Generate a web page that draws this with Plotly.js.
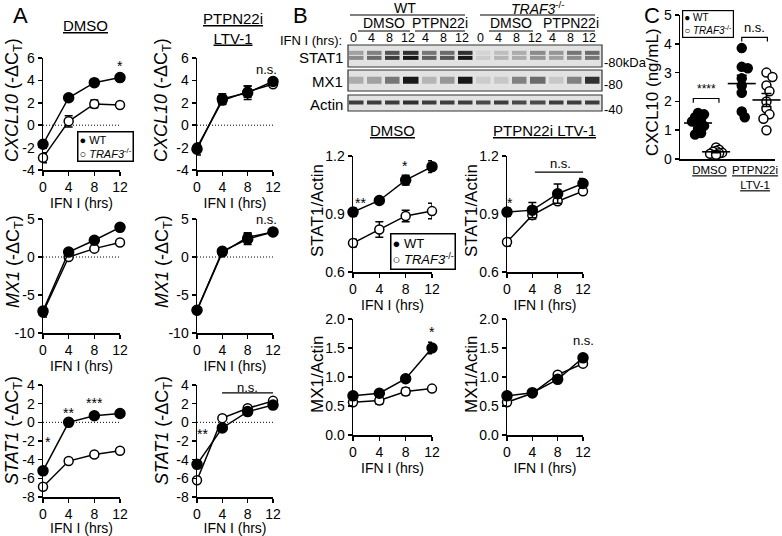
<!DOCTYPE html>
<html><head><meta charset="utf-8">
<script src="https://cdn.plot.ly/plotly-3.0.1.min.js"></script>
<style>html,body{margin:0;padding:0;background:#fff}#chart{width:782px;height:536px}</style>
</head><body><div id="chart"></div>
<script>
// ================= DATA =================
const hours = [0, 4, 8, 12];
const hourLabels = ['0', '4', '8', '12'];

// Panel A: qPCR (-ΔCT), mean and error
const cxcl10DmsoWT = [-1.7, 2.45, 3.8, 4.25];
const cxcl10DmsoWTErr = [0.35, 0.12, 0.25, 0.12];
const cxcl10DmsoKO = [-2.9, 0.35, 1.9, 1.8];
const cxcl10DmsoKOErr = [0.45, 0.5, 0.35, 0.12];
const cxcl10PtpnWT = [-2.15, 2.35, 2.9, 3.9];
const cxcl10PtpnWTErr = [0.5, 0.45, 0.6, 0.15];
const cxcl10PtpnKO = [-2.0, 2.2, 3.0, 3.65];
const cxcl10PtpnKOErr = [0.4, 0.35, 0.5, 0.15];

const mx1DmsoWT = [-7.1, 0.65, 2.2, 3.9];
const mx1DmsoWTErr = [0.5, 0.2, 0.2, 0.2];
const mx1DmsoKO = [-7.3, 0.0, 1.1, 1.9];
const mx1DmsoKOErr = [0.6, 0.3, 0.2, 0.2];
const mx1PtpnWT = [-7.0, 0.75, 2.35, 3.3];
const mx1PtpnWTErr = [0.3, 0.3, 0.7, 0.2];
const mx1PtpnKO = [-7.0, 0.6, 2.6, 3.3];
const mx1PtpnKOErr = [0.3, 0.3, 0.6, 0.2];

const stat1DmsoWT = [-5.2, 0.0, 0.7, 0.95];
const stat1DmsoWTErr = [0.3, 0.2, 0.2, 0.2];
const stat1DmsoKO = [-6.9, -4.15, -3.45, -3.05];
const stat1DmsoKOErr = [0.3, 0.2, 0.2, 0.2];
const stat1PtpnWT = [-4.5, -0.6, 1.15, 1.85];
const stat1PtpnWTErr = [0.3, 0.2, 0.2, 0.2];
const stat1PtpnKO = [-6.2, 0.45, 1.5, 2.3];
const stat1PtpnKOErr = [0.3, 0.2, 0.2, 0.2];

const cxcl10Ticks = [-4, -2, 0, 2, 4, 6];
const mx1Ticks = [-10, -5, 0, 5];
const stat1Ticks = [-8, -6, -4, -2, 0, 2, 4];

// Panel B: blot quantification
const stat1ActinDmsoWT = [0.91, 0.97, 1.075, 1.145];
const stat1ActinDmsoWTErr = [0.02, 0.012, 0.025, 0.03];
const stat1ActinDmsoKO = [0.75, 0.82, 0.89, 0.915];
const stat1ActinDmsoKOErr = [0.02, 0.04, 0.03, 0.04];
const stat1ActinPtpnWT = [0.91, 0.92, 1.005, 1.058];
const stat1ActinPtpnWTErr = [0.02, 0.04, 0.05, 0.025];
const stat1ActinPtpnKO = [0.755, 0.894, 0.966, 1.018];
const stat1ActinPtpnKOErr = [0.02, 0.02, 0.015, 0.01];

const mx1ActinDmsoWT = [0.675, 0.72, 0.97, 1.5];
const mx1ActinDmsoWTErr = [0.04, 0.03, 0.03, 0.1];
const mx1ActinDmsoKO = [0.565, 0.594, 0.75, 0.8];
const mx1ActinDmsoKOErr = [0.05, 0.06, 0.06, 0.02];
const mx1ActinPtpnWT = [0.675, 0.73, 0.96, 1.33];
const mx1ActinPtpnWTErr = [0.03, 0.03, 0.05, 0.06];
const mx1ActinPtpnKO = [0.565, 0.72, 1.04, 1.23];
const mx1ActinPtpnKOErr = [0.04, 0.02, 0.02, 0.05];

const stat1ActinTicks = [0.6, 0.9, 1.2];
const stat1ActinTickText = ['0.6', '0.9', '1.2'];
const mx1ActinTicks = [0, 0.5, 1, 1.5, 2];
const mx1ActinTickText = ['0.0', '0.5', '1.0', '1.5', '2.0'];

// Panel B: western blot (band darkness 0-1), lanes WT(0,4,8,12 DMSO; 4,8,12 PTPN22i), TRAF3-/-(same)
const laneLabels = ['0', '4', '8', '12', '4', '8', '12', '0', '4', '8', '12', '4', '8', '12'];
const stat1BandUpper = [0.35, 0.5, 0.7, 0.85, 0.55, 0.6, 0.85, 0.08, 0.2, 0.3, 0.45, 0.4, 0.55, 0.6];
const stat1BandLower = [0.45, 0.6, 0.8, 0.95, 0.65, 0.7, 0.95, 0.12, 0.25, 0.3, 0.4, 0.35, 0.45, 0.55];
const mx1Band = [0.3, 0.35, 0.55, 0.95, 0.25, 0.4, 0.95, 0.12, 0.15, 0.5, 0.6, 0.15, 0.5, 0.85];
const actinBand = [0.8, 0.8, 0.8, 0.85, 0.8, 0.8, 0.8, 0.75, 0.8, 0.75, 0.75, 0.8, 0.8, 0.8];

// Panel C: CXCL10 (ng/mL) individual values
const cCategories = ['<u>DMSO</u>', '<u>PTPN22i</u><br><u>LTV-1</u>'];
const cxcl10DmsoWTPts = [1.6, 1.55, 1.45, 1.4, 1.3, 1.25, 1.15, 1.05, 0.9, 0.85];
const cxcl10DmsoKOPts = [0.4, 0.32, 0.28, 0.25, 0.22, 0.2, 0.18, 0.15];
const cxcl10PtpnWTPts = [3.85, 3.2, 3.15, 2.8, 2.55, 2.3, 1.65, 1.45];
const cxcl10PtpnKOPts = [3.0, 2.85, 2.55, 2.35, 2.0, 1.75, 1.55, 1.4, 1.0];
const cTicks = [0, 1, 2, 3, 4, 5];

// ================= LAYOUT HELPERS =================
const W = 782, H = 536;
const px = x => x / W;
const py = y => 1 - y / H;
const FONT = 'Liberation Sans, Arial, Helvetica, sans-serif';
const axName = (c, id) => (id === 1 ? c + 'axis' : c + 'axis' + id);
const trRef = (c, id) => (id === 1 ? c : c + id);

const layout = {
  width: W, height: H,
  margin: {l: 0, r: 0, t: 0, b: 0},
  paper_bgcolor: '#ffffff', plot_bgcolor: 'rgba(0,0,0,0)',
  font: {family: FONT, size: 14, color: '#000'},
  showlegend: false, hovermode: false,
  annotations: [], shapes: []
};
const traces = [];

function baseAxis() {
  return {showline: true, linecolor: '#000', linewidth: 1.5, ticks: 'outside', ticklen: 4,
    tickwidth: 1.5, tickcolor: '#000', showgrid: false, zeroline: false, fixedrange: true,
    tickfont: {family: FONT, size: 14, color: '#000'}};
}

function ann(o) {
  layout.annotations.push(Object.assign({showarrow: false, xanchor: 'center', yanchor: 'middle',
    font: {family: FONT, size: 14, color: '#000'}}, o));
}

// line plots (panels A and B)
const linePanels = [
  {id: 1, x: [43, 120], y: [58, 170], yr: [-4, 6], yt: cxcl10Ticks, wt: [cxcl10DmsoWT, cxcl10DmsoWTErr], ko: [cxcl10DmsoKO, cxcl10DmsoKOErr], zero: true},
  {id: 2, x: [197, 273], y: [58, 170], yr: [-4, 6], yt: cxcl10Ticks, wt: [cxcl10PtpnWT, cxcl10PtpnWTErr], ko: [cxcl10PtpnKO, cxcl10PtpnKOErr], zero: true},
  {id: 3, x: [43, 120], y: [219, 333], yr: [-10, 5], yt: mx1Ticks, wt: [mx1DmsoWT, mx1DmsoWTErr], ko: [mx1DmsoKO, mx1DmsoKOErr], zero: true},
  {id: 4, x: [197, 273], y: [219, 333], yr: [-10, 5], yt: mx1Ticks, wt: [mx1PtpnWT, mx1PtpnWTErr], ko: [mx1PtpnKO, mx1PtpnKOErr], zero: true},
  {id: 5, x: [43, 120], y: [385, 497], yr: [-8, 4], yt: stat1Ticks, wt: [stat1DmsoWT, stat1DmsoWTErr], ko: [stat1DmsoKO, stat1DmsoKOErr], zero: true},
  {id: 6, x: [197, 273], y: [385, 497], yr: [-8, 4], yt: stat1Ticks, wt: [stat1PtpnWT, stat1PtpnWTErr], ko: [stat1PtpnKO, stat1PtpnKOErr], zero: true},
  {id: 7, x: [353, 432], y: [156, 272], yr: [0.6, 1.2], yt: stat1ActinTicks, ytt: stat1ActinTickText, wt: [stat1ActinDmsoWT, stat1ActinDmsoWTErr], ko: [stat1ActinDmsoKO, stat1ActinDmsoKOErr]},
  {id: 8, x: [507, 583], y: [156, 272], yr: [0.6, 1.2], yt: stat1ActinTicks, ytt: stat1ActinTickText, wt: [stat1ActinPtpnWT, stat1ActinPtpnWTErr], ko: [stat1ActinPtpnKO, stat1ActinPtpnKOErr]},
  {id: 9, x: [353, 432], y: [319, 435], yr: [0, 2], yt: mx1ActinTicks, ytt: mx1ActinTickText, wt: [mx1ActinDmsoWT, mx1ActinDmsoWTErr], ko: [mx1ActinDmsoKO, mx1ActinDmsoKOErr]},
  {id: 10, x: [507, 583], y: [319, 435], yr: [0, 2], yt: mx1ActinTicks, ytt: mx1ActinTickText, wt: [mx1ActinPtpnWT, mx1ActinPtpnWTErr], ko: [mx1ActinPtpnKO, mx1ActinPtpnKOErr]}
];

function seriesTrace(id, vals, errs, filled) {
  return {
    type: 'scatter', mode: 'lines+markers', x: hours, y: vals,
    xaxis: trRef('x', id), yaxis: trRef('y', id), cliponaxis: false, hoverinfo: 'skip',
    line: {color: '#000', width: 1.5},
    marker: {symbol: 'circle', size: filled ? 10 : 9, color: filled ? '#000' : '#fff', line: {color: '#000', width: 1.5}},
    error_y: {type: 'data', array: errs, visible: true, color: '#000', thickness: 1.5, width: 4}
  };
}

linePanels.forEach(p => {
  const xa = baseAxis();
  Object.assign(xa, {domain: [px(p.x[0]), px(p.x[1])], range: [0, 12], tickvals: hours, ticktext: hourLabels,
    anchor: trRef('y', p.id), title: {text: 'IFN I (hrs)', standoff: 2, font: {family: FONT, size: 14, color: '#000'}}});
  const ya = baseAxis();
  Object.assign(ya, {domain: [py(p.y[1]), py(p.y[0])], range: p.yr, tickvals: p.yt,
    ticktext: p.ytt ? p.ytt : p.yt.map(String), anchor: trRef('x', p.id)});
  layout[axName('x', p.id)] = xa;
  layout[axName('y', p.id)] = ya;
  if (p.zero) {
    layout.shapes.push({type: 'line', xref: trRef('x', p.id), yref: trRef('y', p.id), x0: 0, x1: 12, y0: 0, y1: 0,
      line: {color: '#000', width: 1, dash: '1px,2px'}, layer: 'below'});
  }
  traces.push(seriesTrace(p.id, p.ko[0], p.ko[1], false));
  traces.push(seriesTrace(p.id, p.wt[0], p.wt[1], true));
});

// ---- Panel A annotations ----
ann({x: px(20), y: py(15), xref: 'paper', yref: 'paper', text: 'A', font: {family: FONT, size: 22, color: '#000'}});
ann({x: px(85), y: py(25), xref: 'paper', yref: 'paper', text: '<u>DMSO</u>', font: {family: FONT, size: 15, color: '#000'}});
ann({x: px(233), y: py(29), xref: 'paper', yref: 'paper', text: '<u>PTPN22i</u><br><u>LTV-1</u>', font: {family: FONT, size: 15, color: '#000'}});
const aTitles = [
  {x: 14, y: 100, t: '<i>CXCL10</i> (-ΔC<sub>T</sub>)'}, {x: 163, y: 100, t: '<i>CXCL10</i> (-ΔC<sub>T</sub>)'},
  {x: 14, y: 262, t: '<i>MX1</i> (-ΔC<sub>T</sub>)'}, {x: 163, y: 262, t: '<i>MX1</i> (-ΔC<sub>T</sub>)'},
  {x: 13, y: 431, t: '<i>STAT1</i> (-ΔC<sub>T</sub>)'}, {x: 163, y: 431, t: '<i>STAT1</i> (-ΔC<sub>T</sub>)'}
];
aTitles.forEach(a => ann({x: px(a.x), y: py(a.y), xref: 'paper', yref: 'paper', text: a.t, textangle: -90,
  font: {family: FONT, size: 18, color: '#000'}}));
// significance marks
const sig = (id, x, y, t, size) => ann({xref: trRef('x', id), yref: trRef('y', id), x: x, y: y, text: t,
  font: {family: FONT, size: size || 14, color: '#000'}});
sig(1, 12, 5.3, '*');
sig(2, 11, 5.0, 'n.s.', 13);
sig(3, 12.1, 5.6, '*');
sig(4, 11, 4.9, 'n.s.', 13);
sig(5, 0.8, -2.1, '*');
sig(5, 4.05, 1.0, '**');
sig(5, 8.1, 2.1, '***');
sig(5, 12.1, 2.5, '*');
sig(6, 0.85, -1.2, '**');
sig(6, 8, 3.75, 'n.s.', 13);
layout.shapes.push({type: 'line', xref: 'x6', yref: 'y6', x0: 3.95, x1: 12.1, y0: 3.15, y1: 3.15, line: {color: '#000', width: 1.2}});
// legend A
ann({x: px(77), y: py(131), xref: 'paper', yref: 'paper', xanchor: 'left', yanchor: 'top', align: 'left',
  text: '● WT<br>○ <i>TRAF3</i><sup>-/-</sup>', font: {family: FONT, size: 11, color: '#000'},
  bordercolor: '#000', borderwidth: 1.5, borderpad: 1, bgcolor: '#fff'});

// ---- Panel B graph annotations ----
ann({x: px(300), y: py(15), xref: 'paper', yref: 'paper', text: 'B', font: {family: FONT, size: 22, color: '#000'}});
ann({x: px(392), y: py(130), xref: 'paper', yref: 'paper', text: '<u>DMSO</u>', font: {family: FONT, size: 15, color: '#000'}});
ann({x: px(544), y: py(130), xref: 'paper', yref: 'paper', text: '<u>PTPN22i LTV-1</u>', font: {family: FONT, size: 15, color: '#000'}});
[{x: 317, y: 211, t: 'STAT1/Actin'}, {x: 471, y: 211, t: 'STAT1/Actin'},
 {x: 317, y: 375, t: 'MX1/Actin'}, {x: 471, y: 375, t: 'MX1/Actin'}].forEach(a =>
  ann({x: px(a.x), y: py(a.y), xref: 'paper', yref: 'paper', text: a.t, textangle: -90,
    font: {family: FONT, size: 17, color: '#000'}}));
sig(7, 1.1, 0.955, '**');
sig(7, 7.9, 1.15, '*');
sig(7, 11.8, 1.225, '*');
sig(8, 0.5, 0.955, '*');
sig(8, 8.4, 1.16, 'n.s.', 13);
layout.shapes.push({type: 'line', xref: 'x8', yref: 'y8', x0: 4.4, x1: 12.5, y0: 1.117, y1: 1.117, line: {color: '#000', width: 1.2}});
sig(9, 12, 1.78, '*');
sig(10, 12, 1.63, 'n.s.', 13);
ann({x: px(390), y: py(233), xref: 'paper', yref: 'paper', xanchor: 'left', yanchor: 'top', align: 'left',
  text: '● WT<br>○ <i>TRAF3</i><sup>-/-</sup>', font: {family: FONT, size: 13, color: '#000'},
  bordercolor: '#000', borderwidth: 1.5, borderpad: 1, bgcolor: '#fff'});

// ---- Panel B blot ----
const laneIdx = laneLabels.map((_, i) => i);
const blotX = [348, 602];
const blots = [
  {id: 11, y: [45, 67], yr: [-1.45, 1.45], rows: [0.34, -0.34], z: [stat1BandUpper, stat1BandLower], label: 'STAT1', mw: '-80kDa', mwy: 63, ly: 57},
  {id: 12, y: [70, 91], yr: [-1.4, 1.4], rows: [0], z: [mx1Band], label: 'MX1', mw: '-80', mwy: 84, ly: 81},
  {id: 13, y: [95, 111], yr: [-1.6, 1.6], rows: [0], z: [actinBand], label: 'Actin', mw: '-40', mwy: 109, ly: 104}
];
const blotScale = [[0, '#e2e2e2'], [0.3, '#acacac'], [0.7, '#555555'], [1, '#0a0a0a']];
blots.forEach(b => {
  layout[axName('x', b.id)] = {domain: [px(blotX[0]), px(blotX[1])], range: [-0.5, 13.5], visible: false, fixedrange: true, anchor: trRef('y', b.id)};
  layout[axName('y', b.id)] = {domain: [py(b.y[1]), py(b.y[0])], range: b.yr, visible: false, fixedrange: true, anchor: trRef('x', b.id)};
  layout.shapes.push({type: 'rect', xref: 'paper', yref: 'paper', x0: px(blotX[0]), x1: px(blotX[1]), y0: py(b.y[1]), y1: py(b.y[0]),
    fillcolor: '#e2e2e2', line: {color: '#333', width: 1.2}, layer: 'below'});
  traces.push({type: 'heatmap', x: laneIdx, y: b.rows, z: b.z, xaxis: trRef('x', b.id), yaxis: trRef('y', b.id),
    colorscale: blotScale, zmin: 0, zmax: 1, showscale: false, xgap: 3.5, ygap: 1, hoverinfo: 'skip'});
  ann({x: px(345), y: py(b.ly), xref: 'paper', yref: 'paper', xanchor: 'right', text: b.label,
    font: {family: FONT, size: 15, color: '#000'}});
  ann({x: px(602), y: py(b.mwy), xref: 'paper', yref: 'paper', xanchor: 'left', text: b.mw,
    font: {family: FONT, size: 13, color: '#000'}});
});
laneLabels.forEach((l, i) => ann({x: i, y: py(47), xref: 'x11', yref: 'paper', yanchor: 'bottom', xshift: -4, text: l,
  font: {family: FONT, size: 12.5, color: '#000'}}));
ann({x: px(344), y: py(40), xref: 'paper', yref: 'paper', xanchor: 'right', text: 'IFN I (hrs):', font: {family: FONT, size: 13, color: '#000'}});
// group headers
const headers = [
  {t: 'WT', cx: 405, ty: 8, l0: 350, l1: 465, ly: 15},
  {t: '<i>TRAF3</i><sup>-/-</sup>', cx: 538, ty: 8.5, l0: 480, l1: 595, ly: 15},
  {t: 'DMSO', cx: 384, ty: 23, l0: 358, l1: 410, ly: 31},
  {t: 'PTPN22i', cx: 440, ty: 23, l0: 415, l1: 465, ly: 31},
  {t: 'DMSO', cx: 511, ty: 23, l0: 489, l1: 533, ly: 31},
  {t: 'PTPN22i', cx: 571, ty: 23, l0: 547, l1: 595, ly: 31}
];
headers.forEach(h => {
  ann({x: px(h.cx), y: py(h.ty), xref: 'paper', yref: 'paper', text: h.t, font: {family: FONT, size: 14, color: '#000'}});
  layout.shapes.push({type: 'line', xref: 'paper', yref: 'paper', x0: px(h.l0), x1: px(h.l1), y0: py(h.ly), y1: py(h.ly), line: {color: '#000', width: 1}});
});

// ---- Panel C ----
const cX = [680, 775], cY = [15, 159];
const cXRange = [0, 5], cYRange = [0, 5];
const cCenters = [0.95, 1.9, 3.25, 4.55];
const cLabelPos = [1.55, 3.95];
const xScale = (cX[1] - cX[0]) / (cXRange[1] - cXRange[0]);
const yScale = (cY[1] - cY[0]) / (cYRange[1] - cYRange[0]);
function swarm(vals, center, minDist, step) {
  const placed = [], xs = new Array(vals.length);
  const order = vals.map((v, i) => i).sort((a, b) => vals[b] - vals[a]);
  order.forEach(i => {
    const ypx = vals[i] * yScale;
    for (let k = 0; k < 40; k++) {
      const off = (k === 0 ? 0 : (k % 2 ? 1 : -1) * Math.ceil(k / 2)) * step;
      if (placed.every(p => Math.hypot(p[0] - off, p[1] - ypx) >= minDist)) {
        placed.push([off, ypx]); xs[i] = center + off / xScale; break;
      }
    }
  });
  return xs;
}
const cGroups = [
  {vals: cxcl10DmsoWTPts, c: cCenters[0], filled: true, md: 5},
  {vals: cxcl10DmsoKOPts, c: cCenters[1], filled: false, md: 3},
  {vals: cxcl10PtpnWTPts, c: cCenters[2], filled: true, md: 6},
  {vals: cxcl10PtpnKOPts, c: cCenters[3], filled: false, md: 6}
];
const caxX = baseAxis();
Object.assign(caxX, {domain: [px(cX[0]), px(cX[1])], range: cXRange, ticks: '', tickvals: cLabelPos, ticktext: cCategories,
  anchor: 'y14', ticklabeloverflow: 'allow', tickfont: {family: FONT, size: 11.5, color: '#000'}});
const caxY = baseAxis();
Object.assign(caxY, {domain: [py(cY[1]), py(cY[0])], range: cYRange, tickvals: cTicks, ticktext: cTicks.map(String), anchor: 'x14'});
layout.xaxis14 = caxX; layout.yaxis14 = caxY;
cGroups.forEach(g => {
  traces.push({type: 'scatter', mode: 'markers', x: swarm(g.vals, g.c, g.md, 3), y: g.vals, xaxis: 'x14', yaxis: 'y14',
    cliponaxis: false, hoverinfo: 'skip',
    marker: {symbol: 'circle', size: 9, color: g.filled ? '#000' : '#fff', line: {color: '#000', width: 1.5}}});
});
cGroups.forEach(g => {
  const n = g.vals.length;
  const mean = g.vals.reduce((a, b) => a + b, 0) / n;
  const sd = Math.sqrt(g.vals.reduce((a, b) => a + (b - mean) * (b - mean), 0) / (n - 1));
  traces.push({type: 'scatter', mode: 'markers', x: [g.c], y: [mean], xaxis: 'x14', yaxis: 'y14', cliponaxis: false, hoverinfo: 'skip',
    marker: {symbol: 'line-ew', size: 20, color: '#000', line: {color: '#000', width: 1.6}},
    error_y: {type: 'data', array: [sd / Math.sqrt(n)], visible: true, color: '#000', thickness: 1.5, width: 5}});
});
layout.shapes.push({type: 'path', xref: 'x14', yref: 'y14', path: 'M 0.7,1.95 L 0.7,2.1 L 2.05,2.1 L 2.05,1.95', line: {color: '#000', width: 1.2}});
layout.shapes.push({type: 'path', xref: 'x14', yref: 'y14', path: 'M 3.25,4.08 L 3.25,4.22 L 4.6,4.22 L 4.6,4.08', line: {color: '#000', width: 1.2}});
ann({xref: 'x14', yref: 'y14', x: 1.38, y: 2.12, yanchor: 'bottom', text: '****', font: {family: FONT, size: 12, color: '#000'}});
ann({xref: 'x14', yref: 'y14', x: 3.92, y: 4.22, yanchor: 'bottom', text: 'n.s.', font: {family: FONT, size: 13, color: '#000'}});
ann({x: px(652), y: py(15), xref: 'paper', yref: 'paper', text: 'C', font: {family: FONT, size: 22, color: '#000'}});
ann({x: px(653), y: py(92), xref: 'paper', yref: 'paper', text: 'CXCL10 (ng/mL)', textangle: -90, font: {family: FONT, size: 17, color: '#000'}});
ann({x: px(682), y: py(10), xref: 'paper', yref: 'paper', xanchor: 'left', yanchor: 'top', align: 'left',
  text: '● WT<br>○ <i>TRAF3</i><sup>-/-</sup>', font: {family: FONT, size: 10, color: '#000'},
  bordercolor: '#000', borderwidth: 1.2, borderpad: 1, bgcolor: '#fff'});

Plotly.newPlot('chart', traces, layout, {staticPlot: true, displayModeBar: false});
</script>
</body></html>
